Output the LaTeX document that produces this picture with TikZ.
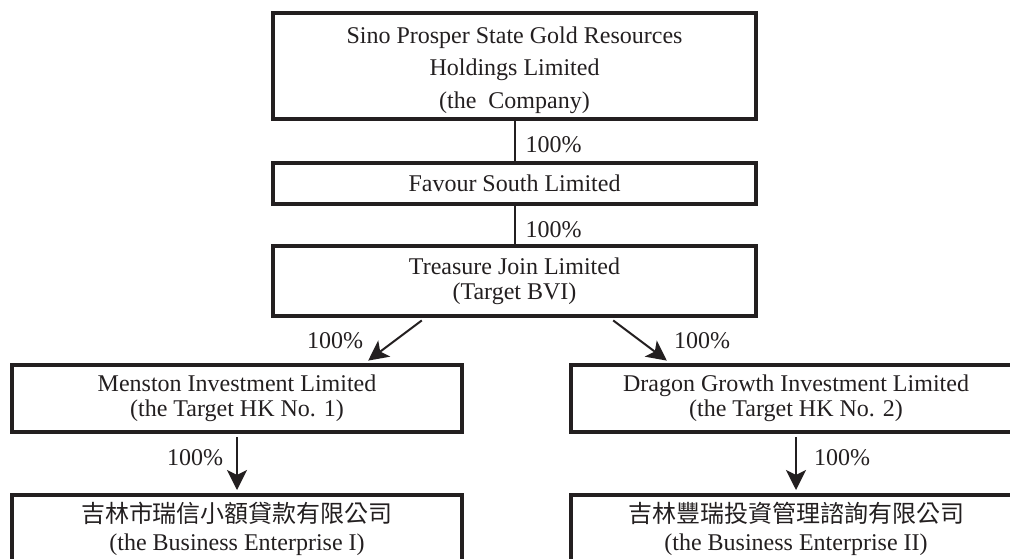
\documentclass[tikz,border=0pt]{standalone}
\usepackage{fontspec}
\setmainfont{Liberation Serif}
\newfontfamily\cjk{Noto Sans CJK TC}
\usetikzlibrary{arrows.meta}
\usetikzlibrary{calc}
\definecolor{ink}{HTML}{231F20}

\begin{document}
\begin{tikzpicture}[x=1pt,y=-1pt]
\useasboundingbox (0,0) rectangle (1010,558);
\clip (0,0) rectangle (1010,558);
\tikzset{firm/.style={
           draw=ink,
           line width=4pt,
           text=ink,
           inner sep=0pt,
           align=center,
           font=\fontsize{24}{25}\selectfont,
           },
         pct/.style={text=ink, inner sep=0pt, font=\fontsize{24}{25}\selectfont},
         link/.style={draw=ink, line width=2pt},
         own/.style={
           link,
           -{Stealth[length=20pt,width=20pt,inset=5pt]},
           shorten <=3pt,
           shorten >=3pt,
           }
}
% holding chain
\node[firm, minimum width=483pt, minimum height=106pt, font=\fontsize{24}{32.5}\selectfont]
  (company) at (514.5,66) {\rule{0pt}{25pt}Sino Prosper State Gold Resources\\Holdings Limited\\(the\ \ Company)};
\node[firm, minimum width=483pt, minimum height=41pt] (favour) at (514.5,183) {Favour South Limited};
\node[firm, minimum width=483pt, minimum height=70pt] (treasure) at (514.5,281) {Treasure Join Limited\\(Target BVI)};
% hong kong companies
\node[firm, minimum width=450pt, minimum height=67pt] (menston) at (237,398.5) {Menston Investment Limited\\(the Target HK No. 1)};
\node[firm, minimum width=450pt, minimum height=67pt] (dragon) at (796,398.5) {Dragon Growth Investment Limited\\(the Target HK No. 2)};
% business enterprises
\node[firm, minimum width=450pt, minimum height=67pt, font=\fontsize{24}{28}\selectfont]
  (ruixin) at (237,528.5) {{\cjk 吉林市瑞信小額貸款有限公司}\\(the Business Enterprise I)};
\node[firm, minimum width=450pt, minimum height=67pt, font=\fontsize{24}{28}\selectfont]
  (fengrui) at (796,528.5) {{\cjk 吉林豐瑞投資管理諮詢有限公司}\\(the Business Enterprise II)};

\draw[link] (company.south) -- node[pct, right=10pt, pos=0.6]{100\%} (favour.north);
\draw[link] (favour.south) -- node[pct, right=10pt, pos=0.62]{100\%} (treasure.north);
\draw[own, shorten <=4pt, shorten >=4pt] ([xshift=-89.5pt]treasure.south) -- node[pct, left=31pt]{100\%} ([xshift=128pt]menston.north);
\draw[own, shorten <=4pt, shorten >=4pt] ([xshift=95.5pt]treasure.south) -- node[pct, right=33pt]{100\%} ([xshift=-126pt]dragon.north);
\draw[own] (menston.south) -- node[pct, left=13pt, pos=0.4]{100\%} (ruixin.north);
\draw[own] (dragon.south) -- node[pct, right=17pt, pos=0.4]{100\%} (fengrui.north);
\end{tikzpicture}
\end{document}
